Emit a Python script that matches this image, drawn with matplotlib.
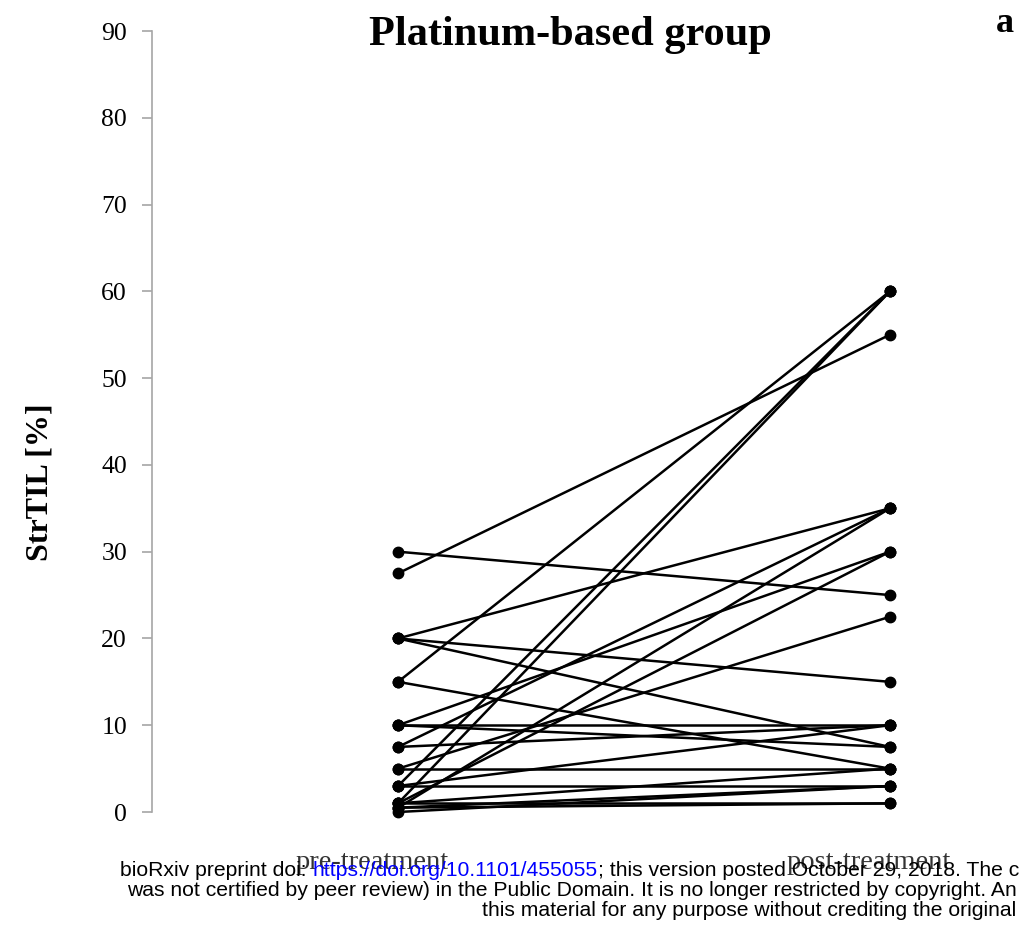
import matplotlib
matplotlib.use("Agg")
import matplotlib.pyplot as plt

# StrTIL values, one pair per patient (pre -> post)
pre = [30, 27.5, 20, 20, 20, 15, 15, 10, 10, 10, 7.5, 7.5, 5, 5, 3, 3, 3, 1, 1, 1, 1, 0.5, 0.5, 0.5, 0]
post = [25, 55, 35, 15, 7.5, 60, 5, 30, 10, 7.5, 35, 10, 22.5, 5, 60, 10, 3, 60, 30, 5, 1, 35, 3, 1, 3]

groups = ["pre-treatment", "post-treatment"]
yticks = [0, 10, 20, 30, 40, 50, 60, 70, 80, 90]

serif = "Liberation Serif"
sans = "Liberation Sans"

fig = plt.figure(figsize=(10.21, 9.31), dpi=100)
ax = fig.add_axes([0.1489, 0.1278, 0.8305, 0.8389])

# one line per patient
for a, b in zip(pre, post):
    ax.plot([0, 1], [a, b], color="black", lw=1.8, marker="o", ms=7.5, clip_on=False)

ax.set_xlim(-0.5, 1.2236)
ax.set_ylim(0, 90)

ax.spines["top"].set_visible(False)
ax.spines["right"].set_visible(False)
ax.spines["bottom"].set_visible(False)
ax.spines["left"].set_color("#a6a6a6")
ax.spines["left"].set_linewidth(1.2)

ax.set_yticks(yticks)
ax.set_yticklabels([str(v) for v in yticks], fontfamily=serif, fontsize=18.5)
ax.tick_params(axis="y", length=7, width=1.2, color="#a6a6a6", pad=11)

# category labels sit a bit left of the dots, like in the original
ax.set_xticks([-0.053, 0.957])
ax.set_xticklabels(groups, fontfamily=serif, fontsize=20.5, color="#333333")
ax.tick_params(axis="x", length=0, pad=27)

ax.set_ylabel("StrTIL [%]", fontfamily=serif, fontsize=23, fontweight="bold")
ax.yaxis.set_label_coords(-0.115, 0.4225)

fig.text(0.559, 0.962, "Platinum-based group", fontfamily=serif, fontsize=30.5,
         fontweight="bold", ha="center", va="center")
fig.text(0.984, 0.975, "a", fontfamily=serif, fontsize=26, fontweight="bold",
         ha="center", va="center")

# bioRxiv footer, first line has a blue link in the middle
renderer = fig.canvas.get_renderer()
parts = [("bioRxiv preprint doi: ", "black"),
         ("https://doi.org/10.1101/455055", "blue"),
         ("; this version posted October 29, 2018. The c", "black")]
x = 120
for s, c in parts:
    t = fig.text(x / 1021, 1 - 870 / 931, s, fontfamily=sans, fontsize=15.2,
                 color=c, ha="left", va="center")
    x = t.get_window_extent(renderer).x1
fig.text(127 / 1021, 1 - 890 / 931,
         "was not certified by peer review) in the Public Domain. It is no longer restricted by copyright. An",
         fontfamily=sans, fontsize=15.2, ha="left", va="center")
fig.text(482 / 1021, 1 - 911 / 931,
         "this material for any purpose without crediting the original",
         fontfamily=sans, fontsize=15.2, ha="left", va="center")

fig.savefig("out.png", dpi=100)
